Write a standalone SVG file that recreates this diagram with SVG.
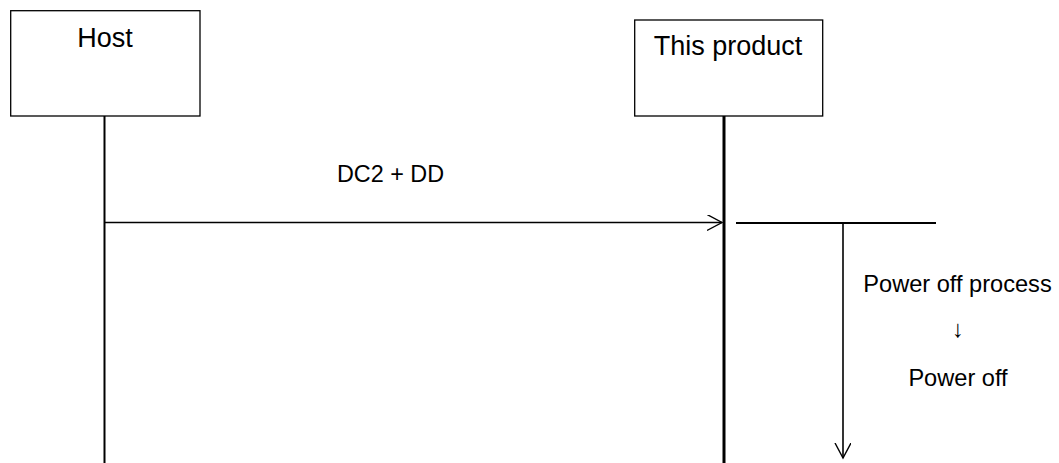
<svg xmlns="http://www.w3.org/2000/svg" width="1059" height="463" viewBox="0 0 1059 463">
<style>
.box{fill:#fff;stroke:#000;stroke-width:1.3}
.t{font-family:"Liberation Sans",Arial,sans-serif;fill:#000}
.life{stroke:#000;fill:none}
</style>
<defs>
<marker id="open" markerWidth="20" markerHeight="20" refX="15" refY="8" orient="auto" markerUnits="userSpaceOnUse">
<path d="M0,0 L15,8 L0,16" fill="none" stroke="#000" stroke-width="1.4"/>
</marker>
</defs>
<rect width="1059" height="463" fill="#fff"/>
<g id="host">
<rect class="box" x="10.7" y="10.7" width="189.3" height="105.3"/>
<text class="t" x="105" y="46.5" font-size="27" text-anchor="middle">Host</text>
</g>
<g id="product">
<rect class="box" x="634.7" y="20" width="188" height="96"/>
<text class="t" x="728" y="55" font-size="27" text-anchor="middle">This product</text>
</g>
<g id="connectors">
<line class="life" x1="104.5" y1="116" x2="104.5" y2="463" stroke-width="2"/>
<line class="life" x1="724" y1="116" x2="724" y2="463" stroke-width="3"/>
<line class="life" x1="105" y1="222.5" x2="722" y2="222.5" stroke-width="1.4" marker-end="url(#open)"/>
<line class="life" x1="736" y1="223" x2="936" y2="223" stroke-width="2"/>
<line class="life" x1="843" y1="223" x2="843" y2="458" stroke-width="1.6" marker-end="url(#open)"/>
</g>
<g id="labels">
<text class="t" x="390.5" y="181.5" font-size="23.4" text-anchor="middle">DC2 + DD</text>
<text class="t" x="957.5" y="292" font-size="23.6" text-anchor="middle">Power off process</text>
<text class="t" x="958" y="337" font-size="24" text-anchor="middle">↓</text>
<text class="t" x="958" y="386" font-size="23.6" text-anchor="middle">Power off</text>
</g>
</svg>
